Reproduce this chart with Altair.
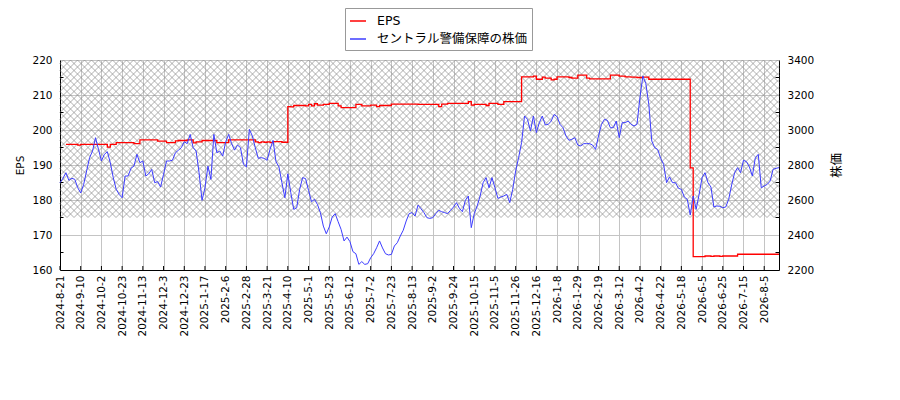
import altair as alt
import numpy as np
import pandas as pd

# ---------------- data ----------------
TICK_LABELS = [
    "2024-8-21", "2024-9-10", "2024-10-2", "2024-10-23", "2024-11-13", "2024-12-3",
    "2024-12-23", "2025-1-17", "2025-2-6", "2025-2-28", "2025-3-21", "2025-4-10",
    "2025-5-1", "2025-5-23", "2025-6-12", "2025-7-2", "2025-7-23", "2025-8-13",
    "2025-9-2", "2025-9-24", "2025-10-15", "2025-11-5", "2025-11-26", "2025-12-16",
    "2026-1-8", "2026-1-29", "2026-2-19", "2026-3-12", "2026-4-2", "2026-4-22",
    "2026-5-18", "2026-6-5", "2026-6-25", "2026-7-15", "2026-8-5",
]
TICK_STEP = 14      # trading days between tick labels
SAMPLE_STEP = 2     # trading days between the values below
LAST_DAY = 486      # last trading-day index on the axis

EPS_NAME = "EPS"
PRICE_NAME = "セントラル警備保障の株価"

PRICE = [
    2699, 2724, 2756, 2712, 2724, 2718, 2670, 2640, 2689, 2766,
    2842, 2880, 2956, 2890, 2823, 2861, 2876, 2813, 2728, 2661,
    2632, 2613, 2737, 2737, 2781, 2794, 2861, 2813, 2823, 2737,
    2750, 2775, 2699, 2705, 2674, 2747, 2823, 2823, 2827, 2870,
    2884, 2899, 2933, 2922, 2975, 2899, 2880, 2756, 2598, 2670,
    2794, 2718, 2975, 2870, 2880, 2851, 2933, 2975, 2922, 2885,
    2914, 2899, 2804, 2789, 3004, 2966, 2899, 2838, 2842, 2838,
    2827, 2890, 2941, 2819, 2789, 2699, 2613, 2750, 2642, 2546,
    2556, 2661, 2728, 2722, 2655, 2590, 2604, 2575, 2528, 2451,
    2407, 2446, 2503, 2522, 2476, 2432, 2366, 2388, 2362, 2305,
    2293, 2232, 2248, 2232, 2236, 2270, 2293, 2327, 2366, 2326,
    2293, 2286, 2289, 2337, 2356, 2394, 2427, 2480, 2522, 2528,
    2508, 2571, 2550, 2528, 2499, 2495, 2499, 2522, 2541, 2533,
    2528, 2522, 2541, 2560, 2585, 2552, 2533, 2598, 2623, 2442,
    2522, 2566, 2623, 2699, 2728, 2670, 2728, 2670, 2609, 2617,
    2623, 2632, 2585, 2661, 2766, 2842, 2928, 3080, 3061, 2994,
    3080, 2985, 3042, 3080, 3029, 3032, 3051, 3089, 3076, 3032,
    3013, 2966, 2941, 2947, 2956, 2914, 2909, 2922, 2922, 2922,
    2914, 2889, 2966, 3032, 3061, 3055, 3013, 3013, 3051, 2956,
    3042, 3042, 3051, 3032, 3023, 3032, 3185, 3309, 3265, 3147,
    2937, 2899, 2889, 2838, 2804, 2699, 2732, 2699, 2699, 2667,
    2661, 2617, 2604, 2514, 2623, 2547, 2632, 2728, 2756, 2699,
    2674, 2560, 2566, 2564, 2556, 2560, 2604, 2686, 2756, 2785,
    2756, 2827, 2819, 2789, 2737, 2842, 2861, 2670, 2680, 2689,
    2708, 2775, 2781, 2785,
]

EPS = [
    None, None, 195.9, 195.9, 195.9, 195.9, 195.7, 195.9, 195.9, 195.9,
    195.9, 195.9, 195.9, 195.9, 195.9, 195.9, 195.1, 195.9, 195.9, 196.4,
    196.4, 196.4, 196.4, 196.4, 196.4, 196.1, 196.1, 197.2, 197.2, 197.2,
    197.2, 197.2, 197.2, 196.8, 196.8, 196.8, 196.4, 196.4, 196.4, 196.9,
    197.0, 197.0, 197.0, 197.2, 197.2, 196.3, 196.6, 196.6, 197.0, 197.0,
    197.0, 197.0, 197.0, 196.4, 196.4, 196.4, 196.4, 197.2, 197.2, 197.2,
    197.2, 197.2, 197.2, 197.2, 197.2, 197.2, 196.6, 196.4, 196.6, 196.5,
    196.6, 196.4, 196.7, 196.7, 196.7, 196.5, 196.5, 206.7, 206.6, 207.0,
    207.0, 207.0, 207.0, 206.9, 207.3, 206.9, 207.5, 207.1, 207.1, 207.3,
    207.3, 207.6, 207.6, 207.6, 206.9, 206.4, 206.4, 206.4, 206.4, 206.4,
    207.3, 207.3, 206.9, 206.9, 206.9, 207.1, 207.1, 206.7, 207.0, 207.0,
    207.0, 207.0, 207.4, 207.4, 207.4, 207.4, 207.4, 207.4, 207.4, 207.4,
    207.4, 207.3, 207.3, 207.3, 207.3, 207.3, 207.3, 207.3, 206.7, 207.4,
    207.4, 207.6, 207.6, 207.6, 207.6, 207.6, 207.6, 207.6, 208.1, 207.1,
    207.3, 207.3, 207.3, 207.3, 207.0, 207.6, 207.6, 207.6, 207.3, 207.3,
    208.1, 208.1, 208.1, 208.1, 208.1, 208.1, 215.2, 215.2, 215.2, 215.2,
    215.4, 214.5, 214.5, 215.1, 214.8, 214.8, 214.3, 214.5, 215.2, 215.2,
    215.2, 215.2, 215.0, 214.8, 214.8, 215.7, 215.7, 215.7, 214.8, 214.6,
    214.6, 214.6, 214.6, 214.6, 214.6, 214.6, 215.7, 215.7, 215.7, 215.4,
    215.4, 215.2, 215.2, 215.1, 215.1, 215.0, 215.0, 215.1, 215.1, 214.5,
    214.5, 214.5, 214.5, 214.5, 214.5, 214.5, 214.5, 214.5, 214.5, 214.5,
    214.5, 214.5, 214.5, 189.2, 163.8, 163.8, 163.8, 163.8, 164.0, 164.0,
    163.9, 164.0, 164.0, 163.9, 164.0, 164.0, 164.0, 164.0, 164.0, 164.5,
    164.5, 164.5, 164.5, 164.5, 164.5, 164.5, 164.5, 164.5, 164.5, 164.5,
    164.5, 164.5, 164.5, 164.5,
]

EPS_DOMAIN = [160, 220]
PRICE_DOMAIN = [2200, 3400]
EPS_LABELS = [160, 170, 180, 190, 200, 210, 220]
EPS_MINOR = [165, 175, 185, 195, 205, 215]
PRICE_LABELS = [2200, 2400, 2600, 2800, 3000, 3200, 3400]
PRICE_MINOR = [2300, 2500, 2700, 2900, 3100, 3300]
HATCH_RANGE = [175, 220]   # EPS band that is cross-hatched

# ---------------- layout / style ----------------
W, H = 719, 210
FONT = "DejaVu Sans, Noto Sans CJK JP"
GRID = "#c4c4c4"
HATCH_SPACING = 7.0

days = list(range(0, SAMPLE_STEP * len(PRICE), SAMPLE_STEP))
df = pd.DataFrame({"day": days, "eps": EPS, "price": PRICE})

tick_values = [TICK_STEP * k for k in range(len(TICK_LABELS))]
label_expr = "[" + ",".join("'%s'" % s for s in TICK_LABELS) + "][round(datum.value / %d)]" % TICK_STEP

# cross-hatch lines for the band, 45 degrees in screen space
px_per_day = W / LAST_DAY
px_per_eps = H / (EPS_DOMAIN[1] - EPS_DOMAIN[0])
hh = (HATCH_RANGE[1] - HATCH_RANGE[0]) * px_per_eps
segs = []
for c in np.arange(-np.floor(hh / HATCH_SPACING) * HATCH_SPACING, W, HATCH_SPACING):
    p0, p1 = max(0.0, -c), min(hh, W - c)
    if p1 - p0 > 0.3:
        segs.append((c + p0, p0, c + p1, p1))
for c in np.arange(0, W + hh, HATCH_SPACING):
    p0, p1 = max(0.0, c - W), min(hh, c)
    if p1 - p0 > 0.3:
        segs.append((c - p0, p0, c - p1, p1))
hatch_df = pd.DataFrame(
    [(a / px_per_day, HATCH_RANGE[0] + b / px_per_eps, c2 / px_per_day, HATCH_RANGE[0] + d / px_per_eps)
     for a, b, c2, d in segs],
    columns=["hx", "hy", "hx2", "hy2"],
)

x_scale = alt.Scale(domain=[0, LAST_DAY], nice=False, zero=False)
eps_scale = alt.Scale(domain=EPS_DOMAIN, nice=False, zero=False)
price_scale = alt.Scale(domain=PRICE_DOMAIN, nice=False, zero=False)
color_scale = alt.Scale(domain=[EPS_NAME, PRICE_NAME], range=["#ff0000", "#3c3cff"])

x_axis = alt.Axis(
    values=tick_values, labelExpr=label_expr, labelAngle=270, labelOverlap=False,
    grid=True, gridColor=GRID, gridWidth=1, ticks=False, tickSize=0,
    domainColor="black", domainWidth=1, labelFont=FONT, labelFontSize=10.5,
    labelColor="black", labelPadding=5, title=None,
)
left_axis = alt.Axis(
    values=EPS_LABELS, grid=True, gridColor=GRID, gridWidth=1, ticks=False, tickSize=0,
    domainColor="black", domainWidth=1, labelFont=FONT, labelFontSize=10.5,
    labelColor="black", labelPadding=8, title="EPS", titleFont=FONT,
    titleFontSize=10.5, titleFontWeight="normal", titleColor="black", titlePadding=6,
)
right_axis = alt.Axis(
    orient="right", values=PRICE_LABELS, format="d", grid=False, ticks=False, tickSize=0,
    domainColor="black", domainWidth=1, labelFont=FONT, labelFontSize=10.5,
    labelColor="black", labelPadding=8, title="株価", titleFont=FONT, titleAngle=270,
    titleFontSize=12.5, titleFontWeight="normal", titleColor="black", titlePadding=30,
)
legend = alt.Legend(
    title=None, orient="none", legendX=285, legendY=-52, direction="vertical",
    symbolType="stroke", symbolSize=256, symbolStrokeWidth=1.5, labelFont=FONT,
    labelFontSize=12.5, labelColor="black", labelOffset=10, padding=4, rowPadding=2,
    strokeColor="#999999", fillColor="white", cornerRadius=0,
)


def X(field):
    return alt.X(field, type="quantitative", scale=x_scale, axis=x_axis)


hatch = alt.Chart(hatch_df).mark_rule(color="#8c8c8c", strokeWidth=0.7).encode(
    x=X("hx"), x2="hx2",
    y=alt.Y("hy:Q", scale=eps_scale, axis=left_axis), y2="hy2",
)

eps_line = alt.Chart(df).transform_calculate(series="'%s'" % EPS_NAME).mark_line(
    interpolate="step-after", strokeWidth=1.3
).encode(
    x=X("day"),
    y=alt.Y("eps:Q", scale=eps_scale, axis=left_axis),
    color=alt.Color("series:N", scale=color_scale, legend=legend),
)

left_ticks = alt.Chart(pd.DataFrame({"v": EPS_MINOR})).mark_rule(color="black").encode(
    y=alt.Y("v:Q", scale=eps_scale, axis=left_axis),
    x=alt.value(0), x2=alt.value(3.5),
)

x_ticks = alt.Chart(pd.DataFrame({"t": tick_values})).mark_rule(color="black").encode(
    x=X("t"), y=alt.value(H - 4), y2=alt.value(H),
)

price_line = alt.Chart(df).transform_calculate(series="'%s'" % PRICE_NAME).mark_line(
    strokeWidth=1
).encode(
    x=X("day"),
    y=alt.Y("price:Q", scale=price_scale, axis=right_axis),
    color=alt.Color("series:N", scale=color_scale, legend=legend),
)

right_ticks = alt.Chart(pd.DataFrame({"v": PRICE_MINOR})).mark_rule(color="black").encode(
    y=alt.Y("v:Q", scale=price_scale, axis=right_axis),
    x=alt.value(W - 3.5), x2=alt.value(W),
)

left_group = alt.layer(hatch, eps_line, left_ticks, x_ticks)
right_group = alt.layer(price_line, right_ticks)

chart = (
    alt.layer(left_group, right_group)
    .resolve_scale(y="independent")
    .properties(
        width=W, height=H,
        padding={"left": 52, "top": 52, "right": 110, "bottom": 110},
        autosize=alt.AutoSizeParams(type="none"),
        background="white",
    )
    .configure_view(strokeWidth=0)
)

chart.save("out.html", embed_options={"renderer": "svg", "actions": False})
